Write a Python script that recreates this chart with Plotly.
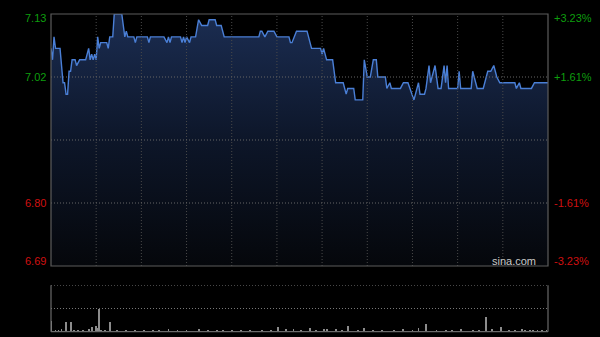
import plotly.graph_objects as go

# ---- data ----
minutes = [0, 1, 2, 3, 6, 8, 9, 10, 11, 12, 13, 14, 16, 17, 19, 23, 25, 26, 27, 28, 29, 30, 31, 32, 33, 37, 38, 39, 41, 42, 47, 49, 50, 51, 55, 56, 57, 64, 65, 66, 75, 77, 78, 79, 80, 86, 87, 88, 89, 90, 92, 93, 96, 98, 100, 104, 105, 109, 110, 113, 115, 138, 139, 140, 142, 144, 148, 150, 158, 159, 160, 163, 170, 173, 179, 180, 181, 183, 187, 189, 194, 196, 197, 201, 202, 207, 208, 210, 212, 214, 216, 217, 222, 223, 225, 226, 232, 234, 237, 241, 244, 245, 248, 249, 251, 252, 255, 257, 259, 261, 262, 263, 264, 270, 271, 272, 279, 280, 282, 283, 287, 289, 290, 292, 294, 295, 296, 298, 308, 309, 311, 312, 319, 321, 330]
prices = [7.07, 7.05, 7.09, 7.07, 7.07, 7.01, 7.01, 6.99, 6.99, 7.03, 7.03, 7.05, 7.05, 7.04, 7.05, 7.05, 7.07, 7.05, 7.06, 7.05, 7.06, 7.05, 7.09, 7.07, 7.08, 7.08, 7.07, 7.09, 7.09, 7.13, 7.13, 7.09, 7.10, 7.09, 7.09, 7.08, 7.09, 7.09, 7.08, 7.09, 7.09, 7.08, 7.09, 7.08, 7.09, 7.09, 7.08, 7.09, 7.08, 7.09, 7.08, 7.09, 7.09, 7.12, 7.11, 7.11, 7.12, 7.12, 7.11, 7.11, 7.09, 7.09, 7.10, 7.10, 7.09, 7.10, 7.10, 7.09, 7.09, 7.08, 7.08, 7.10, 7.10, 7.07, 7.07, 7.06, 7.07, 7.05, 7.05, 7.01, 7.01, 6.99, 7.00, 7.00, 6.98, 6.98, 7.05, 7.02, 7.02, 7.05, 7.05, 7.02, 7.02, 7.00, 7.01, 7.00, 7.00, 7.01, 7.01, 6.98, 7.01, 6.99, 6.99, 7.00, 7.04, 7.01, 7.04, 7.00, 7.00, 7.04, 7.01, 7.04, 7.00, 7.00, 7.03, 7.00, 7.00, 7.03, 7.01, 7.00, 7.00, 7.02, 7.03, 7.03, 7.04, 7.03, 7.02, 7.01, 7.01, 7.00, 7.01, 7.00, 7.00, 7.01, 7.01]

vol_minutes = [0, 3, 5, 7, 10, 13, 15, 18, 21, 25, 27, 30, 31, 32, 33, 36, 39, 44, 50, 56, 62, 68, 72, 78, 84, 90, 98, 104, 110, 114, 120, 126, 132, 140, 146, 151, 156, 161, 166, 172, 176, 181, 183, 189, 193, 197, 204, 208, 214, 220, 228, 234, 240, 244, 249, 256, 262, 266, 272, 280, 284, 289, 293, 299, 304, 308, 313, 315, 318, 320, 323, 326, 329]
vol_values = [47, 4, 3, 11, 42, 39, 4, 7, 4, 10, 17, 22, 14, 96, 7, 4, 39, 3, 4, 3, 4, 3, 4, 10, 3, 4, 10, 3, 4, 7, 3, 4, 3, 4, 3, 17, 10, 10, 4, 13, 4, 10, 10, 10, 4, 22, 7, 14, 4, 3, 4, 10, 4, 13, 33, 4, 3, 4, 10, 4, 3, 62, 10, 17, 4, 3, 10, 7, 4, 7, 7, 4, 4]

price_range = [6.69, 7.13]
grid_prices = [7.02, 6.91, 6.80]
left_labels = ["7.13", "7.02", "6.80", "6.69"]
left_vals = [7.13, 7.02, 6.80, 6.69]
right_labels = ["+3.23%", "+1.61%", "-1.61%", "-3.23%"]
vol_range = [0, 200]
x_range = [0, 330]
x_grid = [30, 60, 90, 120, 150, 180, 210, 240, 270, 300]

GREEN = "#0e9e0e"
RED = "#d01010"
FONT = "Liberation Sans, Arial, sans-serif"
DOTS = "1px,2px"

fig = go.Figure()
fig.add_trace(go.Scatter(
    x=minutes, y=prices, mode="lines",
    line=dict(color="#4a7fd6", width=1.4),
    fill="tozeroy",
    fillgradient=dict(type="vertical", start=6.69, stop=7.13,
                      colorscale=[[0, "#05070b"], [0.5, "#0d1629"], [1, "#1b2d52"]]),
    xaxis="x", yaxis="y", hoverinfo="skip", showlegend=False,
))
fig.add_trace(go.Bar(
    x=vol_minutes, y=vol_values, width=0.6,
    marker=dict(color="#8c8c8c", line=dict(width=0)),
    xaxis="x2", yaxis="y2", hoverinfo="skip", showlegend=False,
))

dom_x = [51 / 600, 548 / 600]
main_dom = [1 - 266 / 337, 1 - 14 / 337]
vol_dom = [1 - 331.7 / 337, 1 - 285.3 / 337]

fig.update_layout(
    width=600, height=337,
    margin=dict(l=0, r=0, t=0, b=0),
    paper_bgcolor="#000000", plot_bgcolor="#000000",
    bargap=0,
    xaxis=dict(domain=dom_x, range=x_range, showgrid=False, zeroline=False,
               showticklabels=False, showline=False, fixedrange=True),
    yaxis=dict(domain=main_dom, range=price_range, showgrid=False, zeroline=False,
               showticklabels=False, showline=False),
    xaxis2=dict(domain=dom_x, range=x_range, anchor="y2", showgrid=False, zeroline=False,
                showticklabels=False, showline=False),
    yaxis2=dict(domain=vol_dom, range=vol_range, anchor="x2", showgrid=False, zeroline=False,
                showticklabels=False, showline=False),
)

shapes = []
GRID = "#4a4a4a"
# vertical grid lines (main panel)
for gx in x_grid:
    shapes.append(dict(type="line", xref="x", yref="y domain", x0=gx, x1=gx, y0=0, y1=1,
                       line=dict(color=GRID, width=1, dash=DOTS), layer="above"))
# horizontal grid lines (main panel)
for gp in grid_prices:
    shapes.append(dict(type="line", xref="x domain", yref="y", x0=0, x1=1, y0=gp, y1=gp,
                       line=dict(color="#666666", width=1, dash=DOTS), layer="above"))
# main frame
shapes.append(dict(type="rect", xref="x domain", yref="y domain", x0=0, x1=1, y0=0, y1=1,
                   line=dict(color="#5c5c5c", width=1.2), layer="above"))
# volume panel dotted lines
for gv in [100, 200]:
    shapes.append(dict(type="line", xref="x2 domain", yref="y2", x0=0, x1=1, y0=gv, y1=gv,
                       line=dict(color="#777777", width=1, dash=DOTS), layer="above"))
# volume panel solid sides + bottom
for (x0, x1, y0, y1) in [(0, 0, 0, 1), (1, 1, 0, 1), (0, 1, 0, 0)]:
    shapes.append(dict(type="line", xref="x2 domain", yref="y2 domain", x0=x0, x1=x1, y0=y0, y1=y1,
                       line=dict(color="#6a6a6a", width=1.2), layer="above"))
fig.update_layout(shapes=shapes)

ann = []
shifts = [-4, 0, 0, 5]
for lab, val, rlab, sh in zip(left_labels, left_vals, right_labels, shifts):
    col = GREEN if val > 6.91 else RED
    ann.append(dict(text=lab, xref="paper", yref="y", x=48 / 600, y=val, xanchor="right",
                    yanchor="middle", yshift=sh, showarrow=False,
                    font=dict(family=FONT, size=11, color=col)))
    ann.append(dict(text=rlab, xref="paper", yref="y", x=552 / 600, y=val, xanchor="left",
                    yanchor="middle", yshift=sh, showarrow=False,
                    font=dict(family=FONT, size=11, color=col)))
ann.append(dict(text="sina.com", xref="paper", yref="y", x=538 / 600, y=6.69, xanchor="right",
                yanchor="middle", yshift=5, showarrow=False,
                font=dict(family=FONT, size=11, color="#c8c8c8")))
fig.update_layout(annotations=ann)

fig.write_html("out.html")
